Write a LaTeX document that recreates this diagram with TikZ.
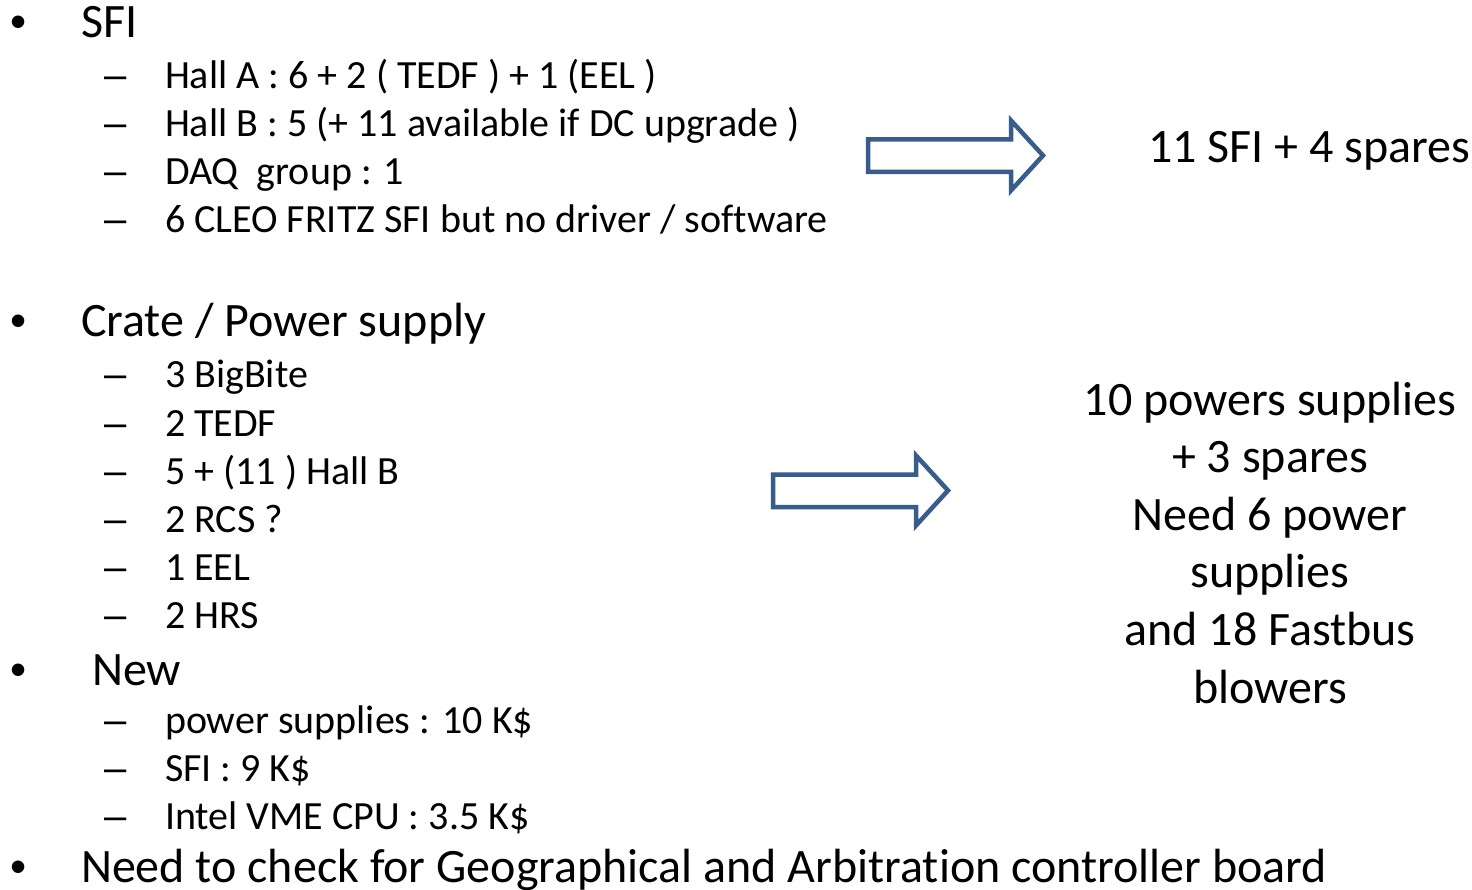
\documentclass[tikz,border=0pt]{standalone}
\usepackage{fontspec}
\setmainfont{Carlito}[Ligatures=NoCommon]
\newfontfamily\symfont{Liberation Sans}
\definecolor{arrowblue}{HTML}{385D8A}
\tikzset{
  mainfont/.style={font=\fontsize{48}{57.6}\selectfont},
  subfont/.style={font=\fontsize{40}{48}\selectfont},
  rightfont/.style={font=\fontsize{48}{57.6}\selectfont},
  txt/.style={anchor=base west, inner sep=0pt, outer sep=0pt},
  bigtxt/.style={txt, mainfont},
  smalltxt/.style={txt, subfont},
  bulletmark/.style={txt, font=\symfont\fontsize{46}{55}\selectfont},
  dashmark/.style={txt, font=\symfont\fontsize{40}{48}\selectfont},
  blockarrow/.style={draw=arrowblue, line width=4.5pt, fill=white, line join=miter}
}
\begin{document}
\begin{tikzpicture}[x=1pt,y=-1pt]
\useasboundingbox[fill=white] (0,0) rectangle (1472,890);

% main bullets
\foreach \n/\y in {b1/38, b2/337, b3/685, b4/882}{
  \node[bulletmark] (\n) at (10,\y) {•};
}
\node[bigtxt] (sfi) at (81,38) {SFI};
\node[bigtxt] (crate) at (81,337) {Crate / Power supply};
\node[bigtxt] (new) at (92,685) {New};
\node[bigtxt] (check) at (81,882) {Need to check for Geographical and Arbitration controller board};

% sub bullets
\foreach \n/\y in {d1/89, d2/137, d3/185, d4/233, d5/388, d6/436, d7/484, d8/532, d9/580, d10/628, d11/733, d12/781, d13/829}{
  \node[dashmark] (\n) at (104,\y) {–};
}
\node[smalltxt] (s1) at (165,89) {Hall A : 6 + 2 ( TEDF ) + 1 (EEL )};
\node[smalltxt] (s2) at (165,137) {Hall B : 5 (+ 11 available if DC upgrade )};
\node[smalltxt] (s3) at (165,185) {DAQ\ \ group : 1};
\node[smalltxt] (s4) at (165,233) {6 CLEO FRITZ SFI but no driver / software};
\node[smalltxt] (s5) at (165,388) {3 BigBite};
\node[smalltxt] (s6) at (165,436) {2 TEDF};
\node[smalltxt] (s7) at (165,484) {5 + (11 ) Hall B};
\node[smalltxt] (s8) at (165,532) {2 RCS ?};
\node[smalltxt] (s9) at (165,580) {1 EEL};
\node[smalltxt] (s10) at (165,628) {2 HRS};
\node[smalltxt] (s11) at (165,733) {power supplies : 10 K\$};
\node[smalltxt] (s12) at (165,781) {SFI : 9 K\$};
\node[smalltxt] (s13) at (165,829) {Intel VME CPU : 3.5 K\$};

% block arrows
\draw[blockarrow] (868,139.5) -- (1011,139.5) -- (1011,120.5) -- (1043,155.5)
   -- (1011,190.5) -- (1011,172) -- (868,172) -- cycle;
\draw[blockarrow] (773,474.5) -- (916,474.5) -- (916,455.5) -- (948,490.5)
   -- (916,525.5) -- (916,507) -- (773,507) -- cycle;

% right texts
\node[txt, rightfont] (r1) at (1148,163) {11 SFI + 4 spares};
\node[anchor=base, inner sep=0pt, rightfont, align=center] (r2) at (1270,703)
  {10 powers supplies\\+ 3 spares\\Need 6 power\\supplies\\and 18 Fastbus\\blowers};
\end{tikzpicture}
\end{document}
